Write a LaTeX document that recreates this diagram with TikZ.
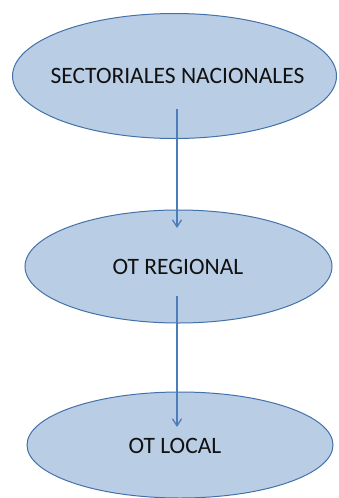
\documentclass[tikz,border=0pt]{standalone}
\usepackage{fontspec}
\setmainfont{Carlito}
\usetikzlibrary{shapes.geometric,arrows.meta}
\definecolor{efill}{HTML}{B9CDE5}
\definecolor{edraw}{HTML}{4372AA}
\definecolor{arrc}{HTML}{4A7EBB}
\definecolor{txt}{HTML}{111111}
\tikzset{
  oval/.style={ellipse, draw=edraw, fill=efill, line width=1pt, inner sep=0pt},
  lbl/.style={font=\fontsize{23.5}{26}\selectfont, text=txt, inner sep=0pt},
  flow/.style={draw=arrc, line width=1.3pt, -{Straight Barb[length=7pt,width=9pt]}}
}
\begin{document}
\begin{tikzpicture}[x=1pt,y=1pt]
\useasboundingbox (0,0) rectangle (339,-498);
\node[oval, minimum width=324pt, minimum height=125pt] (e1) at (174.5,-76) {};
\node[oval, minimum width=307pt, minimum height=113pt] (e2) at (178.5,-266.5) {};
\node[oval, minimum width=306pt, minimum height=106pt] (e3) at (180,-445) {};
\node[lbl] (t1) at ([xshift=3pt]e1.center) {SECTORIALES NACIONALES};
\node[lbl] (t2) at ([xshift=-0.5pt]e2.center) {OT REGIONAL};
\node[lbl] (t3) at ([xshift=-5pt,yshift=-1pt]e3.center) {OT LOCAL};
\coordinate (a1s) at ([yshift=-33pt,xshift=2.5pt]e1.center);
\coordinate (a1e) at ([yshift=38.5pt,xshift=-1.5pt]e2.center);
\coordinate (a2s) at ([yshift=-29.5pt,xshift=-1.5pt]e2.center);
\coordinate (a2e) at ([yshift=18pt,xshift=-3pt]e3.center);
\draw[flow] (a1s) -- (a1e);
\draw[flow] (a2s) -- (a2e);
\end{tikzpicture}
\end{document}
